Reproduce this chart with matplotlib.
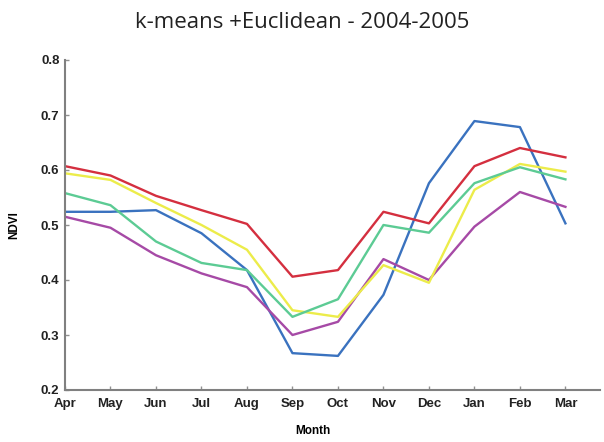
import numpy as np
import matplotlib.pyplot as plt

months = ["Apr", "May", "Jun", "Jul", "Aug", "Sep", "Oct", "Nov", "Dec", "Jan", "Feb", "Mar"]

# NDVI profile of each cluster
red    = [0.607, 0.590, 0.553, 0.527, 0.502, 0.406, 0.418, 0.524, 0.503, 0.607, 0.640, 0.623]
blue   = [0.524, 0.524, 0.527, 0.485, 0.418, 0.267, 0.262, 0.373, 0.576, 0.689, 0.678, 0.503]
green  = [0.558, 0.536, 0.470, 0.431, 0.418, 0.333, 0.365, 0.500, 0.486, 0.576, 0.605, 0.583]
yellow = [0.594, 0.582, 0.540, 0.500, 0.455, 0.345, 0.333, 0.427, 0.395, 0.564, 0.611, 0.597]
purple = [0.515, 0.495, 0.445, 0.412, 0.387, 0.300, 0.324, 0.438, 0.400, 0.497, 0.560, 0.533]

series = [
    (blue, "#3a72bf"),
    (purple, "#a64aa6"),
    (yellow, "#ecec4a"),
    (green, "#5ccb94"),
    (red, "#d42f3f"),
]

fig = plt.figure(figsize=(6.04, 4.42), dpi=100)
ax = fig.add_axes([65 / 604, 1 - 390 / 442, 535 / 604, 330 / 442])

x = np.arange(len(months))
for vals, col in series:
    ax.plot(x, vals, color=col, lw=1.7)

ax.set_xlim(0, 11.76)
ax.set_ylim(0.2, 0.8)
ax.set_xticks(x)
ax.set_xticklabels(months)
ax.set_yticks([0.2, 0.3, 0.4, 0.5, 0.6, 0.7, 0.8])
ax.set_yticklabels(["0.2", "0.3", "0.4", "0.5", "0.6", "0.7", "0.8"])

for s in ["top", "right"]:
    ax.spines[s].set_visible(False)
for s in ["left", "bottom"]:
    ax.spines[s].set_color("#808080")
    ax.spines[s].set_linewidth(1.5)

ax.tick_params(direction="in", length=3, color="#909090", width=1)
ax.tick_params(axis="x", pad=6)
ax.tick_params(axis="y", pad=4)
for lab in ax.get_xticklabels() + ax.get_yticklabels():
    lab.set_fontfamily("Liberation Sans")
    lab.set_fontweight("bold")
    lab.set_fontsize(9.5)
    lab.set_color("#222222")

ax.set_xlabel("Month", fontfamily="Liberation Sans", fontweight="bold", fontsize=8.5)
ax.set_ylabel("NDVI", fontfamily="Liberation Sans", fontweight="bold", fontsize=8.5)
ax.xaxis.set_label_coords((313 - 65) / 535, -0.105)
ax.yaxis.set_label_coords(-(65 - 20) / 535, (390 - 225) / 330)

fig.text(302 / 604, 1 - 22 / 442, "k-means +Euclidean - 2004-2005",
         ha="center", va="center", fontsize=16, fontfamily="Open Sans", color="#222222")

fig.savefig("out.png", dpi=100)
